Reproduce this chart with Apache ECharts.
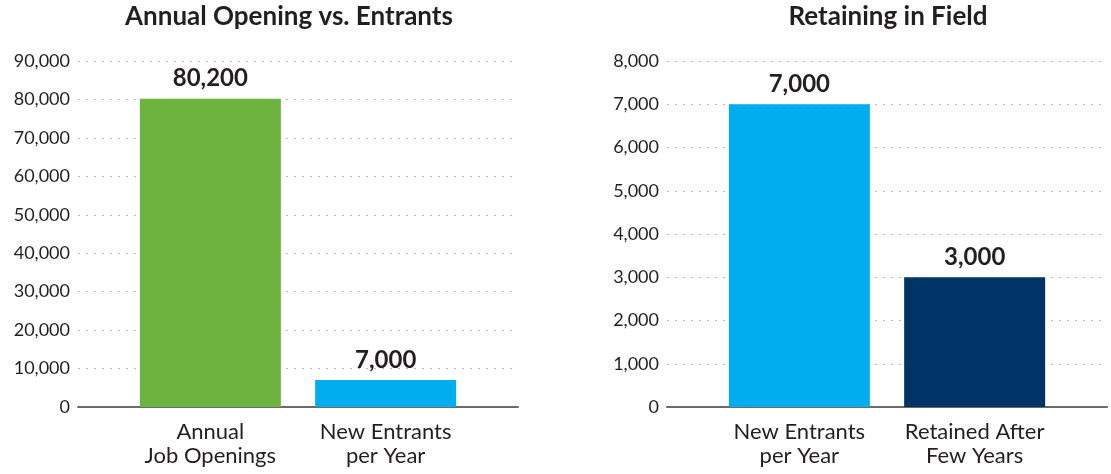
<!DOCTYPE html>
<html>
<head>
<meta charset="utf-8">
<style>
  html, body { margin: 0; padding: 0; background: #fff; }
  #chart { width: 1111px; height: 474px; }
</style>
<script src="https://cdn.jsdelivr.net/npm/echarts@6/dist/echarts.min.js"></script>
</head>
<body>
<div id="chart"></div>
<script>
// ---- data ----
const leftTitle = 'Annual Opening vs. Entrants';
const leftCategories = ['Annual\nJob Openings', 'New Entrants\nper Year'];
const leftValues = [80200, 7000];
const leftColors = ['#6DB33F', '#00AEEF'];
const leftAxisMax = 90000;
const leftAxisStep = 10000;

const rightTitle = 'Retaining in Field';
const rightCategories = ['New Entrants\nper Year', 'Retained After\nFew Years'];
const rightValues = [7000, 3000];
const rightColors = ['#00AEEF', '#003366'];
const rightAxisMax = 8000;
const rightAxisStep = 1000;

// ---- chart ----
const FONT = 'Lato, "Open Sans", sans-serif';
const fmt = v => Number(v).toLocaleString('en-US');

function xAxisFor(gridIndex, cats) {
  return {
    type: 'value', gridIndex: gridIndex, min: -0.755, max: 1.755,
    splitLine: { show: false },
    axisLine: { show: true, onZero: false, lineStyle: { color: '#6b6b6b', width: 2 } },
    axisTick: { show: false },
    axisLabel: {
      customValues: cats.map((c, i) => i),
      formatter: v => cats[Math.round(v)] || '',
      color: '#231f20', fontFamily: FONT, fontSize: 22, lineHeight: 24, margin: 13
    }
  };
}
function yAxisFor(gridIndex, max, step) {
  return {
    type: 'value', gridIndex: gridIndex, min: 0, max: max, interval: step,
    axisLine: { show: false }, axisTick: { show: false },
    axisLabel: { formatter: fmt, color: '#231f20', fontFamily: FONT, fontSize: 18, margin: 8 },
    splitLine: { show: true, lineStyle: { color: '#b8b8b8', width: 1, type: [2, 6] } }
  };
}
function seriesFor(idx, vals, colors) {
  return {
    type: 'bar', xAxisIndex: idx, yAxisIndex: idx, barWidth: 141,
    data: vals.map((v, i) => ({ value: [i, v], itemStyle: { color: colors[i] } })),
    label: {
      show: true, position: 'top', distance: 8,
      formatter: p => fmt(p.value[1]),
      color: '#231f20', fontFamily: FONT, fontWeight: 'bold', fontSize: 24
    },
    z: 3
  };
}

const chart = echarts.init(document.getElementById('chart'), null, { renderer: 'canvas' });
chart.setOption({
  backgroundColor: '#ffffff',
  animation: false,
  title: [
    { text: leftTitle, left: 289, top: 4, textAlign: 'center', padding: 0,
      textStyle: { fontFamily: FONT, fontWeight: 'bold', fontSize: 26, color: '#231f20' } },
    { text: rightTitle, left: 888, top: 4, textAlign: 'center', padding: 0,
      textStyle: { fontFamily: FONT, fontWeight: 'bold', fontSize: 26, color: '#231f20' } }
  ],
  grid: [
    { left: 78, right: 593, top: 61, bottom: 67, containLabel: false },
    { left: 667, right: 4, top: 61, bottom: 67, containLabel: false }
  ],
  xAxis: [xAxisFor(0, leftCategories), xAxisFor(1, rightCategories)],
  yAxis: [yAxisFor(0, leftAxisMax, leftAxisStep), yAxisFor(1, rightAxisMax, rightAxisStep)],
  series: [seriesFor(0, leftValues, leftColors), seriesFor(1, rightValues, rightColors)]
});
</script>
</body>
</html>
